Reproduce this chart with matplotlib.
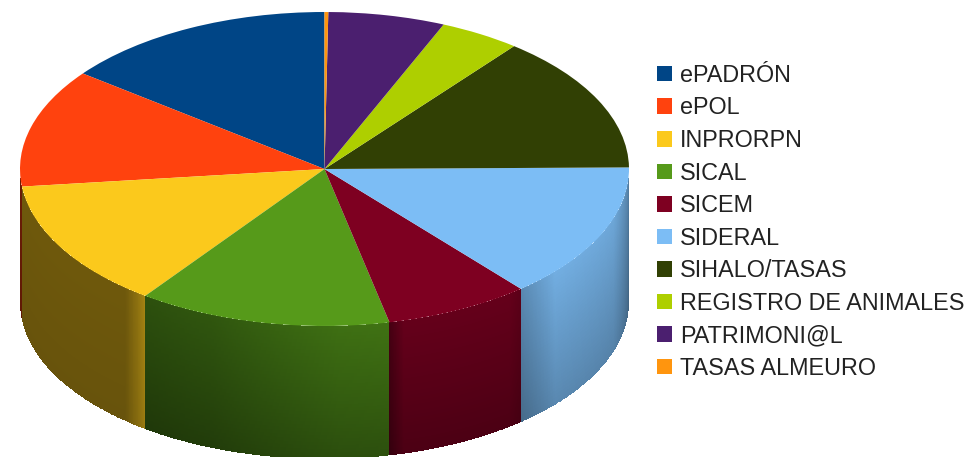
import numpy as np
import matplotlib
matplotlib.use("Agg")
import matplotlib.pyplot as plt

plt.rcParams['font.family'] = ['Liberation Sans', 'DejaVu Sans']

W, H = 969, 457
CX, CY = 324.5, 169.0   # pie centre, px
RX, RY = 304.5, 157.0   # ellipse radii, px
WALL = 133 / RY         # wall height in units of the vertical radius

categories = ["ePADRÓN", "ePOL", "INPRORPN", "SICAL", "SICEM", "SIDERAL",
              "SIHALO/TASAS", "REGISTRO DE ANIMALES", "PATRIMONI@L", "TASAS ALMEURO"]
values = [14.6, 12.2, 13.2, 13.45, 7.75, 14.0, 14.15, 4.3, 6.2, 0.2]
colors = ["#004586", "#ff420e", "#fbc91c", "#569a1a", "#7e0021",
          "#7cbdf5", "#314004", "#aecf00", "#4b1f6f", "#ff950e"]

# Wall shading: brightness stops from the slice's start angle to its end,
# and how much the wall fades toward its bottom edge.
wall_stops = {
    "ePOL": ([0, 1], [0.42, 0.42], 0.1),
    "INPRORPN": ([0, 0.90, 0.97, 1], [0.44, 0.44, 0.58, 0.66], 0.06),
    "SICAL": ([0, 0.3, 0.8, 1], [0.52, 0.56, 0.72, 0.74], 0.30),
    "SICEM": ([0, 0.10, 0.9, 1], [0.55, 0.80, 0.80, 0.72], 0.25),
    "SIDERAL": ([0, 0.18, 0.62, 1], [0.72, 0.92, 0.88, 0.62], 0.22),
}

fig = plt.figure(figsize=(W / 100, H / 100), dpi=100)
ax = fig.add_axes([0, 0, 1, 1])

wedges, _ = ax.pie(values, colors=colors, startangle=90, counterclock=True,
                   radius=1, wedgeprops=dict(linewidth=0, zorder=5))
ax.set_aspect('auto')
ax.set_xlim(-CX / RX, (W - CX) / RX)
ax.set_ylim(-(H - CY) / RY, CY / RY)

# Cylinder wall of each slice that faces the viewer
edges = 90 + 360 * np.cumsum([0] + values) / np.sum(values)
for name, col, a0, a1 in zip(categories, colors, edges[:-1], edges[1:]):
    lo, hi = max(a0, 180), min(a1, 360)
    if hi <= lo or name not in wall_stops:
        continue
    stops, levels, fade = wall_stops[name]
    th = np.linspace(lo, hi, 240)
    z = np.linspace(0, 1, 40)
    T, Z = np.meshgrid(th, z)
    X = np.cos(np.radians(T))
    Y = np.sin(np.radians(T)) - WALL * Z
    um = ((th[:-1] + th[1:]) / 2 - a0) / (a1 - a0)
    zm = (z[:-1] + z[1:]) / 2
    shade = np.interp(um, stops, levels)[None, :] * (1 - fade * zm)[:, None]
    C = np.clip(np.array(matplotlib.colors.to_rgb(col))[None, None, :] * shade[..., None], 0, 1)
    ax.pcolormesh(X, Y, C, zorder=2, shading='flat')

fig.legend(wedges, categories, loc='upper left',
           bbox_to_anchor=(650 / W, 1 - 56.8 / H), frameon=False,
           fontsize=16.8, labelcolor='#222222', handlelength=0.65, handleheight=0.65,
           handletextpad=0.35, labelspacing=0.41, borderaxespad=0, borderpad=0.3)

fig.savefig("out.png", dpi=100)
